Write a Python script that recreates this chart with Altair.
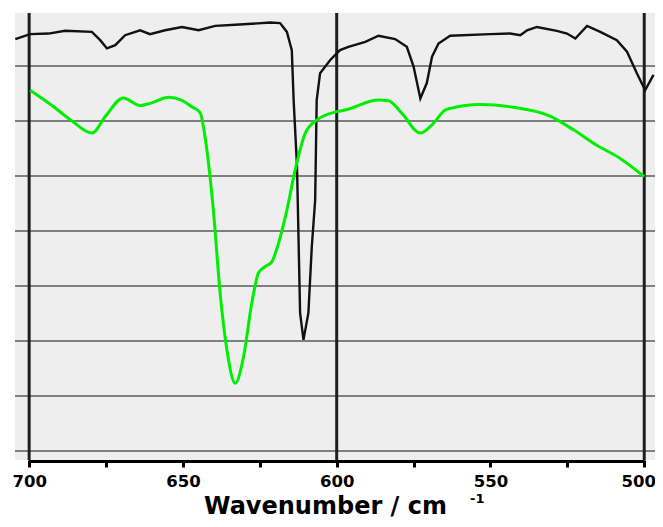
import altair as alt
import pandas as pd

# ---- data (x: wavenumber / cm-1, y: arbitrary transmittance units) ----
green_x = [699.7, 693.0, 686.5, 679.6, 675.0, 669.4, 663.9, 660.1, 654.7, 650.5, 647.1, 644.4,
           642.8, 642.2, 640.1, 637.9, 635.7, 633.0, 630.3, 627.6, 625.4, 623.3, 621.1, 618.9,
           616.2, 613.5, 610.2, 606.4, 599.9, 597.2, 586.4, 583.2, 578.8, 572.8, 569.0, 564.7,
           563.1, 553.3, 542.5, 530.6, 523.0, 515.4, 507.8, 500.0]
green_y = [6.56, 6.30, 6.02, 5.78, 6.10, 6.42, 6.28, 6.33, 6.43, 6.38, 6.26, 6.15,
           5.71, 5.47, 4.38, 2.87, 1.84, 1.23, 1.71, 2.69, 3.24, 3.35, 3.44, 3.78,
           4.38, 5.11, 5.78, 6.02, 6.17, 6.20, 6.38, 6.37, 6.14, 5.78, 5.93, 6.20,
           6.23, 6.30, 6.25, 6.09, 5.84, 5.56, 5.32, 4.99]

black_x = [704.5, 699.7, 693.7, 688.3, 679.6, 676.9, 674.7, 672.0, 668.8, 663.9, 660.7, 655.8,
           650.3, 644.9, 639.5, 633.0, 621.6, 618.4, 616.2, 614.6, 614.0, 612.9, 611.9, 610.8,
           609.2, 608.1, 607.0, 606.5, 605.4, 602.1, 598.9, 596.2, 590.7, 586.4, 581.0, 577.2,
           575.0, 572.8, 570.7, 569.0, 566.9, 563.1, 550.1, 543.6, 540.3, 538.1, 534.9, 528.4,
           525.1, 522.4, 518.6, 514.3, 508.9, 505.6, 502.4, 499.7, 497.0]
black_y = [7.49, 7.58, 7.59, 7.64, 7.62, 7.47, 7.32, 7.38, 7.56, 7.65, 7.58, 7.65,
           7.71, 7.65, 7.73, 7.75, 7.79, 7.78, 7.62, 7.29, 6.38, 5.17, 2.51, 2.02,
           2.51, 3.71, 4.56, 6.38, 6.87, 7.11, 7.29, 7.35, 7.44, 7.55, 7.49, 7.35,
           6.99, 6.41, 6.69, 7.17, 7.41, 7.55, 7.58, 7.59, 7.56, 7.65, 7.71, 7.64,
           7.59, 7.50, 7.73, 7.62, 7.47, 7.26, 6.87, 6.56, 6.84]

h_lines = [0, 1, 2, 3, 4, 5, 6, 7]
v_lines = [700, 600, 500]
tick_values = [700, 675, 650, 625, 600, 575, 550, 525, 500]
axis_span = [700, 500]
axis_title = "Wavenumber / cm"
superscript = "-1"

W, H = 640, 447
FONT = "DejaVu Sans"

xscale = alt.Scale(domain=[704.6, 496.5], nice=False, zero=False)
yscale = alt.Scale(domain=[-0.164, 7.964], nice=False, zero=False)

xaxis = alt.Axis(
    values=tick_values,
    labelExpr="datum.value % 50 === 0 ? datum.label : ''",
    domain=False,
    grid=False,
    ticks=True,
    tickSize=7,
    tickWidth=3,
    tickColor="#000000",
    labelFont=FONT,
    labelFontSize=16.5,
    labelFontWeight="bold",
    labelColor="#000000",
    labelBaseline="alphabetic",
    labelPadding=19,
    labelOffset={"condition": {"test": "datum.value === 500", "value": -6}, "value": 0},
    labelFlush=False,
    labelOverlap=False,
    title=axis_title,
    titleFont=FONT,
    titleFontSize=24,
    titleFontWeight="bold",
    titleColor="#000000",
    titleX=310,
    titleY=53,
    titleAlign="center",
    titleBaseline="alphabetic",
)

hdf = pd.DataFrame({"v": h_lines})
vdf = pd.DataFrame({"v": v_lines})
gdf = pd.DataFrame({"x": green_x, "y": green_y, "o": range(len(green_x))})
bdf = pd.DataFrame({"x": black_x, "y": black_y, "o": range(len(black_x))})
adf = pd.DataFrame({"a": [axis_span[0]], "b": [axis_span[1]]})
sdf = pd.DataFrame({"t": [superscript]})

X = lambda f: alt.X(f, scale=xscale, axis=xaxis)

hrules = alt.Chart(hdf).mark_rule(color="#5a5a5a", strokeWidth=1.6).encode(
    y=alt.Y("v:Q", scale=yscale, axis=None)
)
vrules = alt.Chart(vdf).mark_rule(color="#1e1e1e", strokeWidth=3).encode(
    x=X("v:Q")
)
black = alt.Chart(bdf).mark_line(color="#111111", strokeWidth=2.4).encode(
    x=X("x:Q"),
    y=alt.Y("y:Q", scale=yscale, axis=None),
    order="o:Q",
)
green = alt.Chart(gdf).mark_line(color="#00ee00", strokeWidth=3, interpolate="monotone").encode(
    x=X("x:Q"),
    y=alt.Y("y:Q", scale=yscale, axis=None),
    order="o:Q",
)
axis_line = alt.Chart(adf).mark_rule(color="#000000", strokeWidth=3).encode(
    x=X("a:Q"),
    x2="b:Q",
    y=alt.value(H + 1.5),
)
sup = alt.Chart(sdf).mark_text(
    font=FONT, fontSize=13, fontWeight="bold", color="#000000", align="left", baseline="alphabetic"
).encode(x=alt.value(455), y=alt.value(490), text="t:N")

chart = alt.layer(hrules, vrules, black, green, axis_line, sup).properties(
    width=W, height=H,
    padding={"left": 7, "top": 5, "right": 0, "bottom": 59},
    autosize=alt.AutoSizeParams(type="none"),
).configure_view(fill="#eeeeee", stroke=None)

chart.save("out.html", embed_options={"renderer": "svg", "actions": False})
